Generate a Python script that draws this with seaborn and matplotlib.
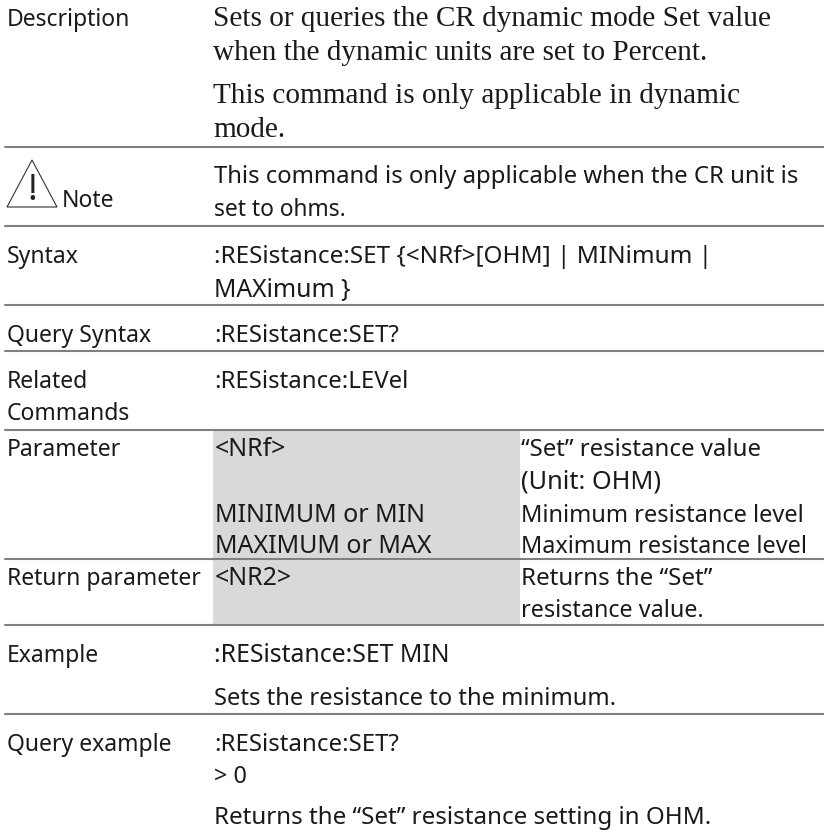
import seaborn as sns
import matplotlib.pyplot as plt
from matplotlib.patches import Polygon

sns.set_theme(style="white")

# 表格文字
row_labels = ["Description", "Note", "Syntax", "Query Syntax", "Related", "Commands",
              "Parameter", "Return parameter", "Example", "Query example"]
desc_lines = ["Sets or queries the CR dynamic mode Set value",
              "when the dynamic units are set to Percent.",
              "This command is only applicable in dynamic",
              "mode."]
body_lines = ["This command is only applicable when the CR unit is",
              "set to ohms.",
              ":RESistance:SET {<NRf>[OHM] | MINimum |",
              "MAXimum }",
              ":RESistance:SET?",
              ":RESistance:LEVel",
              ":RESistance:SET MIN",
              "Sets the resistance to the minimum.",
              ":RESistance:SET?",
              "> 0",
              "Returns the \u201cSet\u201d resistance setting in OHM."]
param_names = ["<NRf>", "MINIMUM or MIN", "MAXIMUM or MAX", "<NR2>"]
param_desc = ["\u201cSet\u201d resistance value", "(Unit: OHM)", "Minimum resistance level",
              "Maximum resistance level", "Returns the \u201cSet\u201d", "resistance value."]

W, H = 824, 834
fig = plt.figure(figsize=(W / 100, H / 100), dpi=100)
ax = fig.add_axes([0, 0, 1, 1])
ax.set_xlim(0, W)
ax.set_ylim(H, 0)
ax.axis("off")

SANS = "Noto Sans"
SERIF = "Liberation Serif"
INK = "#1a1a1a"
fs_label = 16.5
fs_serif = 21.1

# 灰色底
ax.axhspan(430, 624, xmin=213 / W, xmax=520 / W, color="#d9d9d9", lw=0, zorder=0)

# 分隔线
for y in [146.5, 226, 305, 351, 430, 559, 625, 714]:
    sns.lineplot(x=[5, W], y=[y, y], color="#808080", lw=1.5, ax=ax, legend=False, zorder=1)

label_y = [26, 207, 263, 342, 388, 420, 456, 585, 662, 751]
for txt, y in zip(row_labels, label_y):
    x = 62 if txt == "Note" else 7
    ax.text(x, y, txt, fontsize=fs_label, family=SANS, color=INK, va="baseline")

for txt, y in zip(desc_lines, [26, 60, 103, 137]):
    ax.text(213, y, txt, fontsize=fs_serif, family=SERIF, color=INK, va="baseline")

# 每行字号单独调一下，字体宽度和原图不一样
body_y = [183, 216, 263, 297, 342, 388, 662, 705, 751, 783, 824]
body_fs = [17.2, 16.4, 17.5, 17.8, 17.3, 17.25, 17.9, 17.1, 17.3, 16.9, 17.4]
for txt, y, s in zip(body_lines, body_y, body_fs):
    ax.text(214, y, txt, fontsize=s, family=SANS, color=INK, va="baseline")

for txt, y in zip(param_names, [456, 522, 553, 585]):
    ax.text(215, y, txt, fontsize=18, family=SANS, color=INK, va="baseline")
for txt, y, s in zip(param_desc, [456, 488, 522, 553, 585, 617], [17.25, 18.2, 17.0, 16.9, 17.4, 16.8]):
    ax.text(521, y, txt, fontsize=s, family=SANS, color=INK, va="baseline")

# 警告三角
ax.add_patch(Polygon([[32, 160], [7, 207], [57, 207]], closed=True, fill=False,
                     ec="#333333", lw=0.8))
ax.text(32, 200, "!", fontsize=26, family=SANS, weight="bold", color="#222222",
        ha="center", va="baseline")

fig.savefig("out.png", dpi=100)
